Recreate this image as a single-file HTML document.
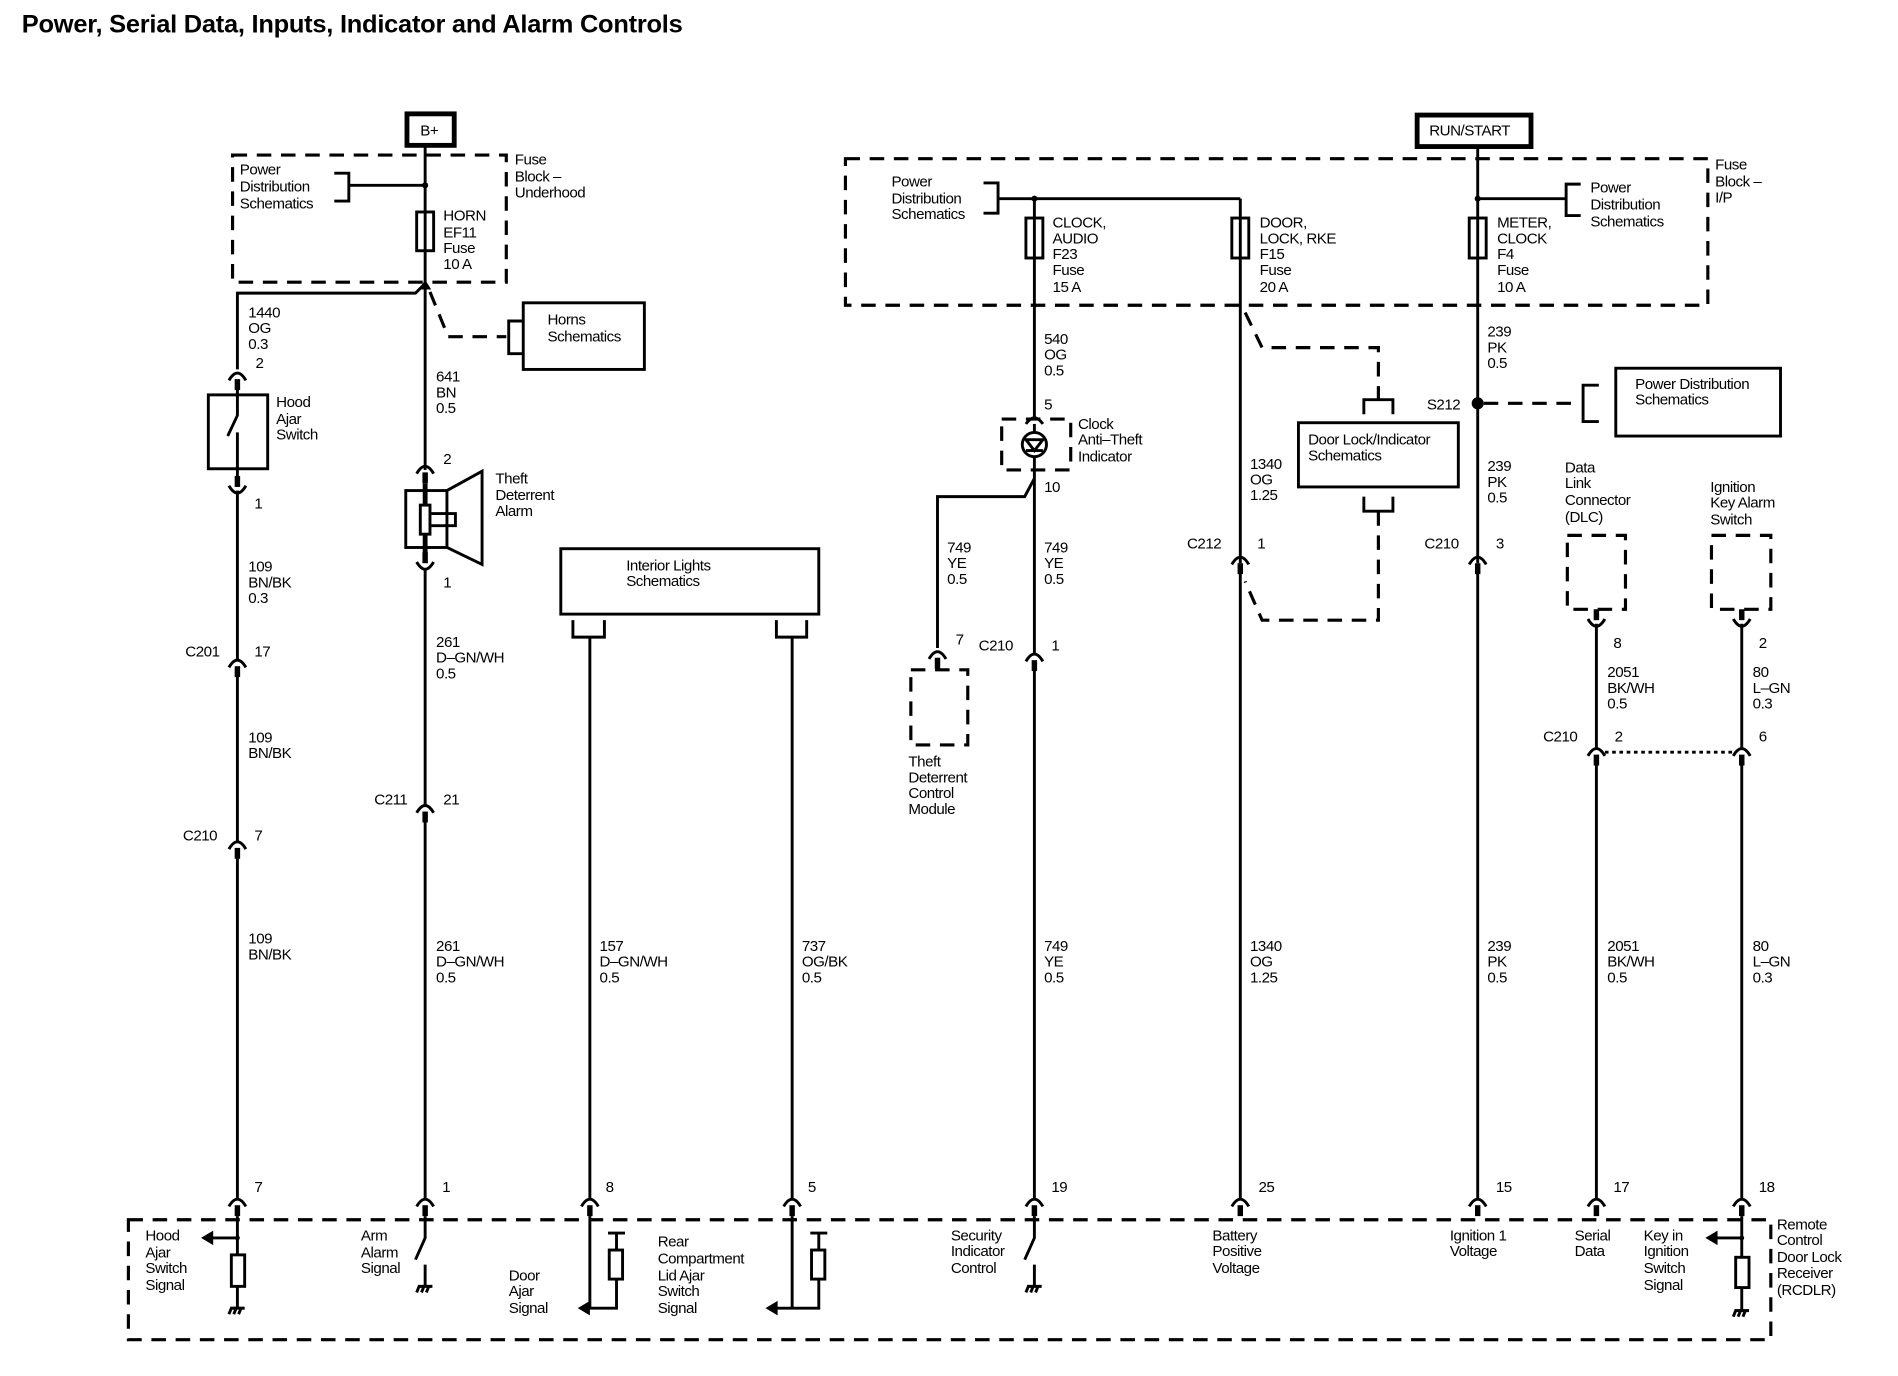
<!DOCTYPE html>
<html><head><meta charset="utf-8"><style>
html,body{margin:0;padding:0;background:#fff;}
svg{display:block;}
text{font-family:"Liberation Sans",Arial,sans-serif;font-size:12.5px;fill:#000;letter-spacing:-0.4px;}
.t{font-weight:bold;font-size:21px;letter-spacing:-0.2px;}
.w{stroke:#000;stroke-width:2.4;fill:none;}
.d{stroke:#000;stroke-width:2.6;fill:none;stroke-dasharray:12 8;}
.b{stroke:#000;stroke-width:2.4;fill:#fff;}
</style></head><body>
<svg width="1898" height="1376" viewBox="0 0 1567 1136" preserveAspectRatio="none" xmlns="http://www.w3.org/2000/svg">
<defs>
<g id="cf"><path d="M-7,6 Q0,-6 7,6" class="w" stroke-width="2.6"/><line x1="0" y1="5" x2="0" y2="14" stroke="#000" stroke-width="4.5"/></g>
<g id="cm"><line x1="0" y1="-14" x2="0" y2="-5" stroke="#000" stroke-width="4.5"/><path d="M-7,-6 Q0,6 7,-6" class="w" stroke-width="2.6"/></g>
<g id="gnd"><line x1="-6" y1="0" x2="6" y2="0" stroke="#000" stroke-width="2.5"/><line x1="-5" y1="0" x2="-7" y2="5" class="w" stroke-width="1.8"/><line x1="-1" y1="0" x2="-3" y2="5" class="w" stroke-width="1.8"/><line x1="3" y1="0" x2="1" y2="5" class="w" stroke-width="1.8"/></g>
</defs>
<text x="18" y="27" class="t">Power, Serial Data, Inputs, Indicator and Alarm Controls</text>

<!-- B+ -->
<rect x="336" y="94" width="39" height="26" fill="#fff" stroke="#000" stroke-width="4"/>
<text x="347" y="112">B+</text>
<rect x="192" y="128" width="226" height="105" class="d"/>
<text x="198" y="144">Power</text><text x="198" y="158">Distribution</text><text x="198" y="172">Schematics</text>
<path d="M276,143 H288 V166 H276" class="w"/>
<line x1="288" y1="153" x2="351" y2="153" class="w"/><circle cx="351" cy="153" r="2.5"/>
<text x="425" y="136">Fuse</text><text x="425" y="150">Block –</text><text x="425" y="163">Underhood</text>
<line x1="351" y1="120" x2="351" y2="388" class="w"/>
<rect x="344" y="175" width="14" height="32" class="b"/><line x1="351" y1="175" x2="351" y2="207" class="w"/>
<text x="366" y="182">HORN</text><text x="366" y="196">EF11</text><text x="366" y="209">Fuse</text><text x="366" y="222">10 A</text>
<path d="M346,239 L351,231 L356,239 Z"/>
<path d="M351,234 L343,242 H196 V305" class="w"/>
<path d="M355,241 L370,278 H418" class="d" stroke-dasharray="10 7"/>
<path d="M432,265 H420 V292 H432" class="w"/>
<rect x="432" y="250" width="100" height="55" class="b"/>
<text x="452" y="268">Horns</text><text x="452" y="282">Schematics</text>

<!-- hood ajar -->
<text x="205" y="262">1440</text><text x="205" y="275">OG</text><text x="205" y="288">0.3</text>
<use href="#cf" x="196" y="308"/><text x="211" y="304">2</text>
<rect x="172" y="326" width="49" height="61" class="b"/>
<path d="M196,322 V343 L188,360 M196,357 V402" class="w"/>
<text x="228" y="336">Hood</text><text x="228" y="350">Ajar</text><text x="228" y="363">Switch</text>
<use href="#cm" x="196" y="407"/><text x="210" y="420">1</text>
<line x1="196" y1="405" x2="196" y2="545" class="w"/>
<text x="205" y="472">109</text><text x="205" y="485">BN/BK</text><text x="205" y="498">0.3</text>
<use href="#cf" x="196" y="545"/><text x="153" y="542">C201</text><text x="210" y="542">17</text>
<line x1="196" y1="555" x2="196" y2="695" class="w"/>
<text x="205" y="613">109</text><text x="205" y="626">BN/BK</text>
<use href="#cf" x="196" y="695"/><text x="151" y="694">C210</text><text x="210" y="694">7</text>
<line x1="196" y1="705" x2="196" y2="990" class="w"/>
<text x="205" y="779">109</text><text x="205" y="792">BN/BK</text>

<!-- theft alarm -->
<text x="360" y="315">641</text><text x="360" y="328">BN</text><text x="360" y="341">0.5</text>
<use href="#cf" x="351" y="385"/><text x="366" y="383">2</text>
<rect x="335" y="405" width="34" height="47" class="b"/>
<path d="M369,405 L398,389 V466 L369,452" class="w"/>
<rect x="347" y="417" width="8" height="24" class="b"/>
<path d="M355,424 H376 V434 H355" class="w"/>
<line x1="351" y1="399" x2="351" y2="417" stroke="#000" stroke-width="4"/>
<line x1="351" y1="441" x2="351" y2="460" stroke="#000" stroke-width="4"/>
<use href="#cm" x="351" y="470"/><text x="366" y="485">1</text>
<text x="409" y="399">Theft</text><text x="409" y="413">Deterrent</text><text x="409" y="426">Alarm</text>
<line x1="351" y1="470" x2="351" y2="665" class="w"/>
<text x="360" y="534">261</text><text x="360" y="547">D–GN/WH</text><text x="360" y="560">0.5</text>
<use href="#cf" x="351" y="665"/><text x="309" y="664">C211</text><text x="366" y="664">21</text>
<line x1="351" y1="675" x2="351" y2="990" class="w"/>
<text x="360" y="785">261</text><text x="360" y="798">D–GN/WH</text><text x="360" y="811">0.5</text>

<!-- interior lights -->
<rect x="463" y="453" width="213" height="54" class="b"/>
<text x="517" y="471">Interior Lights</text><text x="517" y="484">Schematics</text>
<path d="M473,512 V526 H499 V512 M641,512 V526 H666 V512" class="w"/>
<line x1="487" y1="526" x2="487" y2="990" class="w"/>
<line x1="654" y1="526" x2="654" y2="990" class="w"/>
<text x="495" y="785">157</text><text x="495" y="798">D–GN/WH</text><text x="495" y="811">0.5</text>
<text x="662" y="785">737</text><text x="662" y="798">OG/BK</text><text x="662" y="811">0.5</text>

<!-- right fuse block -->
<rect x="1170" y="95" width="94" height="26" fill="#fff" stroke="#000" stroke-width="4"/>
<text x="1180" y="112">RUN/START</text>
<rect x="698" y="131" width="712" height="121" class="d"/>
<text x="736" y="154">Power</text><text x="736" y="168">Distribution</text><text x="736" y="181">Schematics</text>
<path d="M812,151 H824 V176 H812" class="w"/>
<line x1="824" y1="164" x2="1024" y2="164" class="w"/><circle cx="854" cy="164" r="2.5"/>
<line x1="854" y1="164" x2="854" y2="345" class="w"/>
<line x1="1024" y1="164" x2="1024" y2="465" class="w"/>
<line x1="1220" y1="121" x2="1220" y2="465" class="w"/>
<rect x="847" y="180" width="14" height="33" class="b"/><line x1="854" y1="180" x2="854" y2="213" class="w"/>
<rect x="1017" y="180" width="14" height="33" class="b"/><line x1="1024" y1="180" x2="1024" y2="213" class="w"/>
<rect x="1213" y="180" width="14" height="33" class="b"/><line x1="1220" y1="180" x2="1220" y2="213" class="w"/>
<text x="869" y="188">CLOCK,</text><text x="869" y="201">AUDIO</text><text x="869" y="214">F23</text><text x="869" y="227">Fuse</text><text x="869" y="241">15 A</text>
<text x="1040" y="188">DOOR,</text><text x="1040" y="201">LOCK, RKE</text><text x="1040" y="214">F15</text><text x="1040" y="227">Fuse</text><text x="1040" y="241">20 A</text>
<text x="1236" y="188">METER,</text><text x="1236" y="201">CLOCK</text><text x="1236" y="214">F4</text><text x="1236" y="227">Fuse</text><text x="1236" y="241">10 A</text>
<line x1="1220" y1="164" x2="1293" y2="164" class="w"/><circle cx="1220" cy="164" r="2.5"/>
<path d="M1305,152 H1293 V178 H1305" class="w"/>
<text x="1313" y="159">Power</text><text x="1313" y="173">Distribution</text><text x="1313" y="187">Schematics</text>
<text x="1416" y="140">Fuse</text><text x="1416" y="154">Block –</text><text x="1416" y="167">I/P</text>

<!-- clock indicator -->
<text x="862" y="284">540</text><text x="862" y="297">OG</text><text x="862" y="310">0.5</text>
<text x="862" y="338">5</text>
<path d="M847,350 Q854,340 861,350" class="w"/>
<rect x="827" y="346" width="57" height="42" class="d" stroke-dasharray="8 6"/>
<circle cx="854" cy="367" r="10" class="b"/>
<path d="M847,363 H861 L854,372 Z M847,372 H861" class="w" stroke-width="1.8"/>
<line x1="854" y1="350" x2="854" y2="357" class="w"/>
<line x1="854" y1="377" x2="854" y2="540" class="w"/>
<text x="890" y="354">Clock</text><text x="890" y="367">Anti–Theft</text><text x="890" y="381">Indicator</text>
<text x="862" y="406">10</text>
<path d="M854,395 L846,410 H774 V535" class="w"/>
<text x="782" y="456">749</text><text x="782" y="469">YE</text><text x="782" y="482">0.5</text>
<text x="862" y="456">749</text><text x="862" y="469">YE</text><text x="862" y="482">0.5</text>
<use href="#cf" x="774" y="538"/><text x="789" y="532">7</text>
<rect x="752" y="553" width="47" height="62" class="d" stroke-dasharray="8 6"/>
<text x="750" y="633">Theft</text><text x="750" y="646">Deterrent</text><text x="750" y="659">Control</text><text x="750" y="672">Module</text>
<use href="#cf" x="854" y="540"/><text x="808" y="537">C210</text><text x="868" y="537">1</text>
<line x1="854" y1="550" x2="854" y2="990" class="w"/>
<text x="862" y="785">749</text><text x="862" y="798">YE</text><text x="862" y="811">0.5</text>

<!-- door lock -->
<path d="M1028,258 L1042,287 H1138 V330" class="d" stroke-dasharray="10 7"/>
<path d="M1126,342 V330 H1150 V342" class="w"/>
<rect x="1072" y="349" width="132" height="53" class="b"/>
<text x="1080" y="367">Door Lock/Indicator</text><text x="1080" y="380">Schematics</text>
<path d="M1126,410 V422 H1150 V410" class="w"/>
<path d="M1138,422 V512 H1042 L1028,480" class="d" stroke-dasharray="10 7"/>
<text x="1032" y="387">1340</text><text x="1032" y="400">OG</text><text x="1032" y="413">1.25</text>
<use href="#cf" x="1024" y="460"/><text x="980" y="453">C212</text><text x="1038" y="453">1</text>
<line x1="1024" y1="470" x2="1024" y2="990" class="w"/>
<text x="1032" y="785">1340</text><text x="1032" y="798">OG</text><text x="1032" y="811">1.25</text>

<!-- run/start wire -->
<text x="1228" y="278">239</text><text x="1228" y="291">PK</text><text x="1228" y="304">0.5</text>
<circle cx="1220" cy="333" r="5"/><text x="1178" y="338">S212</text>
<line x1="1225" y1="333" x2="1305" y2="333" class="d" stroke-dasharray="10 7"/>
<path d="M1320,318 H1307 V348 H1320" class="w"/>
<rect x="1334" y="304" width="136" height="56" class="b"/>
<text x="1350" y="321">Power Distribution</text><text x="1350" y="334">Schematics</text>
<text x="1228" y="389">239</text><text x="1228" y="402">PK</text><text x="1228" y="415">0.5</text>
<use href="#cf" x="1220" y="460"/><text x="1176" y="453">C210</text><text x="1235" y="453">3</text>
<line x1="1220" y1="470" x2="1220" y2="990" class="w"/>
<text x="1228" y="785">239</text><text x="1228" y="798">PK</text><text x="1228" y="811">0.5</text>

<!-- DLC -->
<text x="1292" y="390">Data</text><text x="1292" y="403">Link</text><text x="1292" y="417">Connector</text><text x="1292" y="431">(DLC)</text>
<rect x="1294" y="442" width="48" height="61" class="d" stroke-dasharray="8 6"/>
<use href="#cm" x="1318" y="517"/><text x="1332" y="535">8</text>
<line x1="1318" y1="515" x2="1318" y2="618" class="w"/>
<text x="1327" y="559">2051</text><text x="1327" y="572">BK/WH</text><text x="1327" y="585">0.5</text>
<use href="#cf" x="1318" y="618"/><text x="1274" y="612">C210</text><text x="1333" y="612">2</text>
<line x1="1325" y1="621" x2="1431" y2="621" class="w" stroke-width="1.8" stroke-dasharray="3 3"/>
<line x1="1318" y1="628" x2="1318" y2="990" class="w"/>
<text x="1327" y="785">2051</text><text x="1327" y="798">BK/WH</text><text x="1327" y="811">0.5</text>

<!-- ignition key -->
<text x="1412" y="406">Ignition</text><text x="1412" y="419">Key Alarm</text><text x="1412" y="433">Switch</text>
<rect x="1413" y="442" width="49" height="61" class="d" stroke-dasharray="8 6"/>
<use href="#cm" x="1438" y="517"/><text x="1452" y="535">2</text>
<line x1="1438" y1="515" x2="1438" y2="618" class="w"/>
<text x="1447" y="559">80</text><text x="1447" y="572">L–GN</text><text x="1447" y="585">0.3</text>
<use href="#cf" x="1438" y="618"/><text x="1452" y="612">6</text>
<line x1="1438" y1="628" x2="1438" y2="990" class="w"/>
<text x="1447" y="785">80</text><text x="1447" y="798">L–GN</text><text x="1447" y="811">0.3</text>

<!-- bottom connectors -->
<use href="#cf" x="196" y="990"/><text x="210" y="984">7</text>
<use href="#cf" x="351" y="990"/><text x="365" y="984">1</text>
<use href="#cf" x="487" y="990"/><text x="500" y="984">8</text>
<use href="#cf" x="654" y="990"/><text x="667" y="984">5</text>
<use href="#cf" x="854" y="990"/><text x="868" y="984">19</text>
<use href="#cf" x="1024" y="990"/><text x="1039" y="984">25</text>
<use href="#cf" x="1220" y="990"/><text x="1235" y="984">15</text>
<use href="#cf" x="1318" y="990"/><text x="1332" y="984">17</text>
<use href="#cf" x="1438" y="990"/><text x="1452" y="984">18</text>

<!-- bottom module -->
<rect x="106" y="1007" width="1356" height="99" class="d"/>
<text x="120" y="1024">Hood</text><text x="120" y="1038">Ajar</text><text x="120" y="1051">Switch</text><text x="120" y="1065">Signal</text>
<line x1="196" y1="1004" x2="196" y2="1080" class="w"/>
<line x1="196" y1="1022" x2="174" y2="1022" class="w"/><path d="M166,1022 L176,1016 V1028 Z"/>
<circle cx="196" cy="1022" r="2"/>
<rect x="191" y="1036" width="11" height="26" class="b"/>
<use href="#gnd" x="196" y="1080"/>

<text x="298" y="1024">Arm</text><text x="298" y="1038">Alarm</text><text x="298" y="1051">Signal</text>
<path d="M351,1004 V1022 L343,1040 M351,1044 V1062" class="w"/>
<use href="#gnd" x="351" y="1062"/>

<text x="420" y="1057">Door</text><text x="420" y="1070">Ajar</text><text x="420" y="1084">Signal</text>
<path d="M487,1004 V1080 M509,1018 V1080 H484" class="w"/>
<path d="M477,1080 L487,1074 V1086 Z"/>
<path d="M502,1018 H516" class="w"/>
<rect x="503" y="1032" width="11" height="24" class="b"/>

<text x="543" y="1029">Rear</text><text x="543" y="1043">Compartment</text><text x="543" y="1057">Lid Ajar</text><text x="543" y="1070">Switch</text><text x="543" y="1084">Signal</text>
<path d="M654,1004 V1080 M676,1018 V1080 H641" class="w"/>
<path d="M632,1080 L642,1074 V1086 Z"/>
<path d="M669,1018 H683" class="w"/>
<rect x="670" y="1032" width="11" height="24" class="b"/>

<text x="785" y="1024">Security</text><text x="785" y="1037">Indicator</text><text x="785" y="1051">Control</text>
<path d="M854,1004 V1022 L846,1040 M854,1044 V1062" class="w"/>
<use href="#gnd" x="854" y="1062"/>

<text x="1001" y="1024">Battery</text><text x="1001" y="1037">Positive</text><text x="1001" y="1051">Voltage</text>
<text x="1197" y="1024">Ignition 1</text><text x="1197" y="1037">Voltage</text>
<text x="1300" y="1024">Serial</text><text x="1300" y="1037">Data</text>
<text x="1357" y="1024">Key in</text><text x="1357" y="1037">Ignition</text><text x="1357" y="1051">Switch</text><text x="1357" y="1065">Signal</text>
<line x1="1438" y1="1004" x2="1438" y2="1082" class="w"/>
<line x1="1438" y1="1022" x2="1416" y2="1022" class="w"/><path d="M1408,1022 L1418,1016 V1028 Z"/>
<circle cx="1438" cy="1022" r="2"/>
<rect x="1433" y="1038" width="11" height="25" class="b"/>
<use href="#gnd" x="1438" y="1082"/>
<text x="1467" y="1015">Remote</text><text x="1467" y="1028">Control</text><text x="1467" y="1042">Door Lock</text><text x="1467" y="1055">Receiver</text><text x="1467" y="1069">(RCDLR)</text>
</svg>
</body></html>
